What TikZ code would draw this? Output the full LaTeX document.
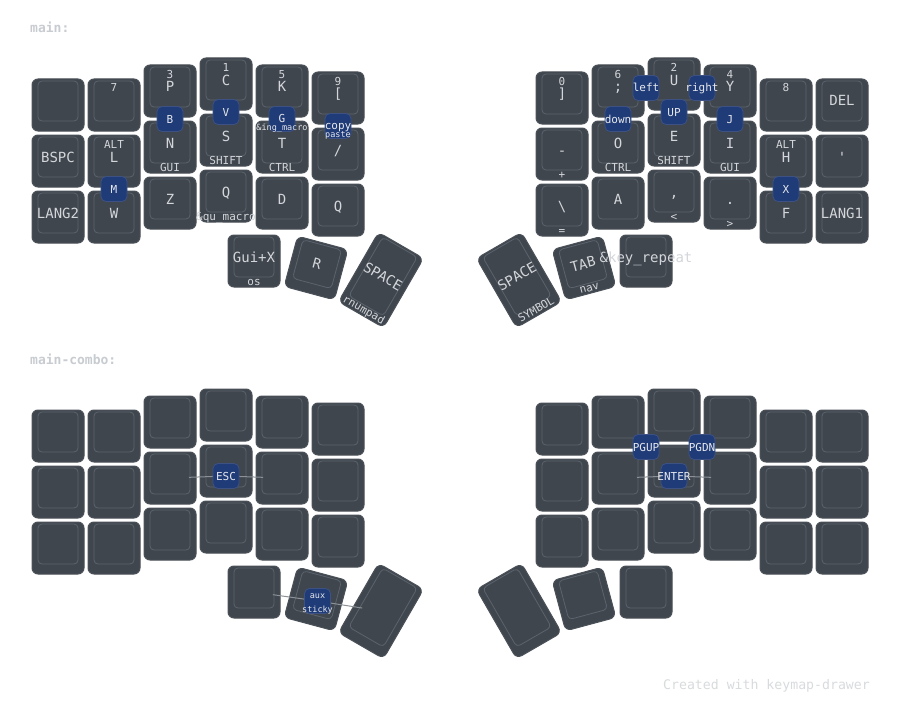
\documentclass[tikz,border=0pt]{standalone}
\usepackage{fontspec}
\newfontfamily\keyfont{DejaVu Sans Mono}
\definecolor{keyfill}{HTML}{40464E}
\definecolor{keyline}{HTML}{4B5159}
\definecolor{sideline}{HTML}{5C636C}
\definecolor{keytext}{HTML}{D3D6DA}
\definecolor{combofill}{HTML}{1F3B78}
\definecolor{comboline}{HTML}{3D5283}
\definecolor{combotext}{HTML}{E6E8EC}
\definecolor{dendline}{HTML}{8C9197}
\definecolor{headtext}{HTML}{C8CCD1}
\definecolor{foottext}{HTML}{D8DBDE}

% key: name, centre, angle, height, tap, top, hold
\newcommand{\keycap}[7]{%
  \begin{scope}[shift={#2}, rotate=#3, transform shape]
    \node[keybox, minimum height={#4}] (#1) at (0,0) {};
    \node[keyside, minimum height={#4-12}] (#1-s) at (0,-4) {};
    \node[taplbl] (#1-t) at (0,1) {#5};
    \node[toplbl] (#1-u) at (0,{-#4/2+13}) {#6};
    \node[holdlbl] (#1-h) at (0,{#4/2-2}) {#7};
  \end{scope}}

% combo: [tap shift], name, centre, tap, top, hold
\newcommand{\combokey}[6][4]{%
  \node[combobox] (#2) at #3 {};
  \node[combotap] (#2-t) at ([yshift=-#1pt]#2.center) {#4};
  \node[combosmall] (#2-u) at ([yshift=3pt]#2.center) {#5};
  \node[combosmall] (#2-h) at ([yshift=-11pt]#2.center) {#6};}

\begin{document}
\begin{tikzpicture}[x=1pt,y=-1pt]
  \tikzset{
    keybox/.style={rectangle, rounded corners=6pt, minimum width=52pt,
      inner sep=0pt, fill=keyfill, draw=keyline, line width=1pt},
    keyside/.style={rectangle, rounded corners=4pt, minimum width=40pt,
      inner sep=0pt, draw=sideline, line width=0.8pt},
    taplbl/.style={font=\keyfont\fontsize{14}{14}\selectfont, text=keytext,
      anchor=base, inner sep=0pt},
    toplbl/.style={font=\keyfont\fontsize{11}{11}\selectfont, text=keytext,
      anchor=base, inner sep=0pt},
    holdlbl/.style={toplbl},
    combobox/.style={rectangle, rounded corners=5pt, minimum width=26pt,
      minimum height=25pt, inner sep=0pt, fill=combofill, draw=comboline,
      line width=0.8pt},
    combotap/.style={font=\keyfont\fontsize{11}{11}\selectfont, text=combotext,
      anchor=base, inner sep=0pt},
    combosmall/.style={font=\keyfont\fontsize{8.5}{8.5}\selectfont,
      text=combotext, anchor=base, inner sep=0pt},
    dendron/.style={draw=dendline, line width=1pt, shorten >=19pt},
    headlbl/.style={font=\keyfont\bfseries\fontsize{13}{13}\selectfont,
      text=headtext, anchor=base west, inner sep=0pt},
    footlbl/.style={font=\keyfont\fontsize{13.2}{13.2}\selectfont,
      text=foottext, anchor=base east, inner sep=0pt}
  }
  \fill[white] (0,0) rectangle (900,717);
  \useasboundingbox (0,0) rectangle (900,717);

  % layer main
  \node[headlbl] (hmain) at (30,33) {main:};
  \keycap{m0-0}{(58,105)}{0}{52}{}{}{}
  \keycap{m1-0}{(114,105)}{0}{52}{}{7}{}
  \keycap{m2-0}{(170,91)}{0}{52}{P}{3}{}
  \keycap{m3-0}{(226,84)}{0}{52}{C}{1}{}
  \keycap{m4-0}{(282,91)}{0}{52}{K}{5}{}
  \keycap{m5-0}{(338,98)}{0}{52}{[}{9}{}
  \keycap{m6-0}{(562,98)}{0}{52}{]}{0}{}
  \keycap{m7-0}{(618,91)}{0}{52}{;}{6}{}
  \keycap{m8-0}{(674,84)}{0}{52}{U}{2}{}
  \keycap{m9-0}{(730,91)}{0}{52}{Y}{4}{}
  \keycap{m10-0}{(786,105)}{0}{52}{}{8}{}
  \keycap{m11-0}{(842,105)}{0}{52}{DEL}{}{}
  \keycap{m0-1}{(58,161)}{0}{52}{BSPC}{}{}
  \keycap{m1-1}{(114,161)}{0}{52}{L}{ALT}{}
  \keycap{m2-1}{(170,147)}{0}{52}{N}{}{GUI}
  \keycap{m3-1}{(226,140)}{0}{52}{S}{}{SHIFT}
  \keycap{m4-1}{(282,147)}{0}{52}{T}{}{CTRL}
  \keycap{m5-1}{(338,154)}{0}{52}{/}{}{}
  \keycap{m6-1}{(562,154)}{0}{52}{-}{}{+}
  \keycap{m7-1}{(618,147)}{0}{52}{O}{}{CTRL}
  \keycap{m8-1}{(674,140)}{0}{52}{E}{}{SHIFT}
  \keycap{m9-1}{(730,147)}{0}{52}{I}{}{GUI}
  \keycap{m10-1}{(786,161)}{0}{52}{H}{ALT}{}
  \keycap{m11-1}{(842,161)}{0}{52}{\textquotesingle}{}{}
  \keycap{m0-2}{(58,217)}{0}{52}{LANG2}{}{}
  \keycap{m1-2}{(114,217)}{0}{52}{W}{}{}
  \keycap{m2-2}{(170,203)}{0}{52}{Z}{}{}
  \keycap{m3-2}{(226,196)}{0}{52}{Q}{}{\&qu\_macro}
  \keycap{m4-2}{(282,203)}{0}{52}{D}{}{}
  \keycap{m5-2}{(338,210)}{0}{52}{Q}{}{}
  \keycap{m6-2}{(562,210)}{0}{52}{\textbackslash}{}{=}
  \keycap{m7-2}{(618,203)}{0}{52}{A}{}{}
  \keycap{m8-2}{(674,196)}{0}{52}{,}{}{<}
  \keycap{m9-2}{(730,203)}{0}{52}{.}{}{>}
  \keycap{m10-2}{(786,217)}{0}{52}{F}{}{}
  \keycap{m11-2}{(842,217)}{0}{52}{LANG1}{}{}
  \keycap{mt0}{(254,261)}{0}{52}{Gui+X}{}{os}
  \keycap{mt1}{(316,268)}{-15}{52}{R}{}{}
  \keycap{mt2}{(381,280)}{-30}{80}{SPACE}{}{rnumpad}
  \keycap{mt3}{(519,280)}{30}{80}{SPACE}{}{SYMBOL}
  \keycap{mt4}{(584,268)}{15}{52}{TAB}{}{nav}
  \keycap{mt5}{(646,261)}{0}{52}{\&key\_repeat}{}{}
  % combos main
  \combokey{cb}{(170,119)}{B}{}{}
  \combokey{cv}{(226,112)}{V}{}{}
  \combokey[3]{cg}{(282,119)}{G}{}{\&ing\_macro}
  \combokey[3]{ccopy}{(338,126)}{copy}{}{paste}
  \combokey{cm}{(114,189)}{M}{}{}
  \combokey{cleft}{(646,88)}{left}{}{}
  \combokey{cright}{(702,88)}{right}{}{}
  \combokey{cup}{(674,112)}{UP}{}{}
  \combokey{cdown}{(618,119)}{down}{}{}
  \combokey{cj}{(730,119)}{J}{}{}
  \combokey{cx}{(786,189)}{X}{}{}

  % layer main-combo
  \node[headlbl] (hcombo) at (30,364) {main-combo:};
  \foreach \r in {0,1,2} {
    \foreach \kx/\ky [count=\c from 0] in {58/436,114/436,170/422,226/415,
        282/422,338/429,562/429,618/422,674/415,730/422,786/436,842/436} {
      \keycap{c\c-\r}{(\kx,{\ky+56*\r})}{0}{52}{}{}{}
    }
  }
  \keycap{ct0}{(254,592)}{0}{52}{}{}{}
  \keycap{ct1}{(316,599)}{-15}{52}{}{}{}
  \keycap{ct2}{(381,611)}{-30}{80}{}{}{}
  \keycap{ct3}{(519,611)}{30}{80}{}{}{}
  \keycap{ct4}{(584,599)}{15}{52}{}{}{}
  \keycap{ct5}{(646,592)}{0}{52}{}{}{}
  % combos main-combo
  \draw[dendron] (226,476) -- (c2-1.center);
  \draw[dendron] (226,476) -- (c4-1.center);
  \combokey{esc}{(226,476)}{ESC}{}{}
  \combokey{pgup}{(646,447)}{PGUP}{}{}
  \combokey{pgdn}{(702,447)}{PGDN}{}{}
  \draw[dendron] (674,476) -- (c7-1.center);
  \draw[dendron] (674,476) -- (c9-1.center);
  \combokey{enter}{(674,476)}{ENTER}{}{}
  \draw[dendron] (317.5,601) -- (ct0.center);
  \draw[dendron] (317.5,601) -- (ct2.center);
  \combokey{aux}{(317.5,601)}{}{aux}{sticky}

  \node[footlbl] (credit) at (870,689) {Created with keymap-drawer};
\end{tikzpicture}
\end{document}
